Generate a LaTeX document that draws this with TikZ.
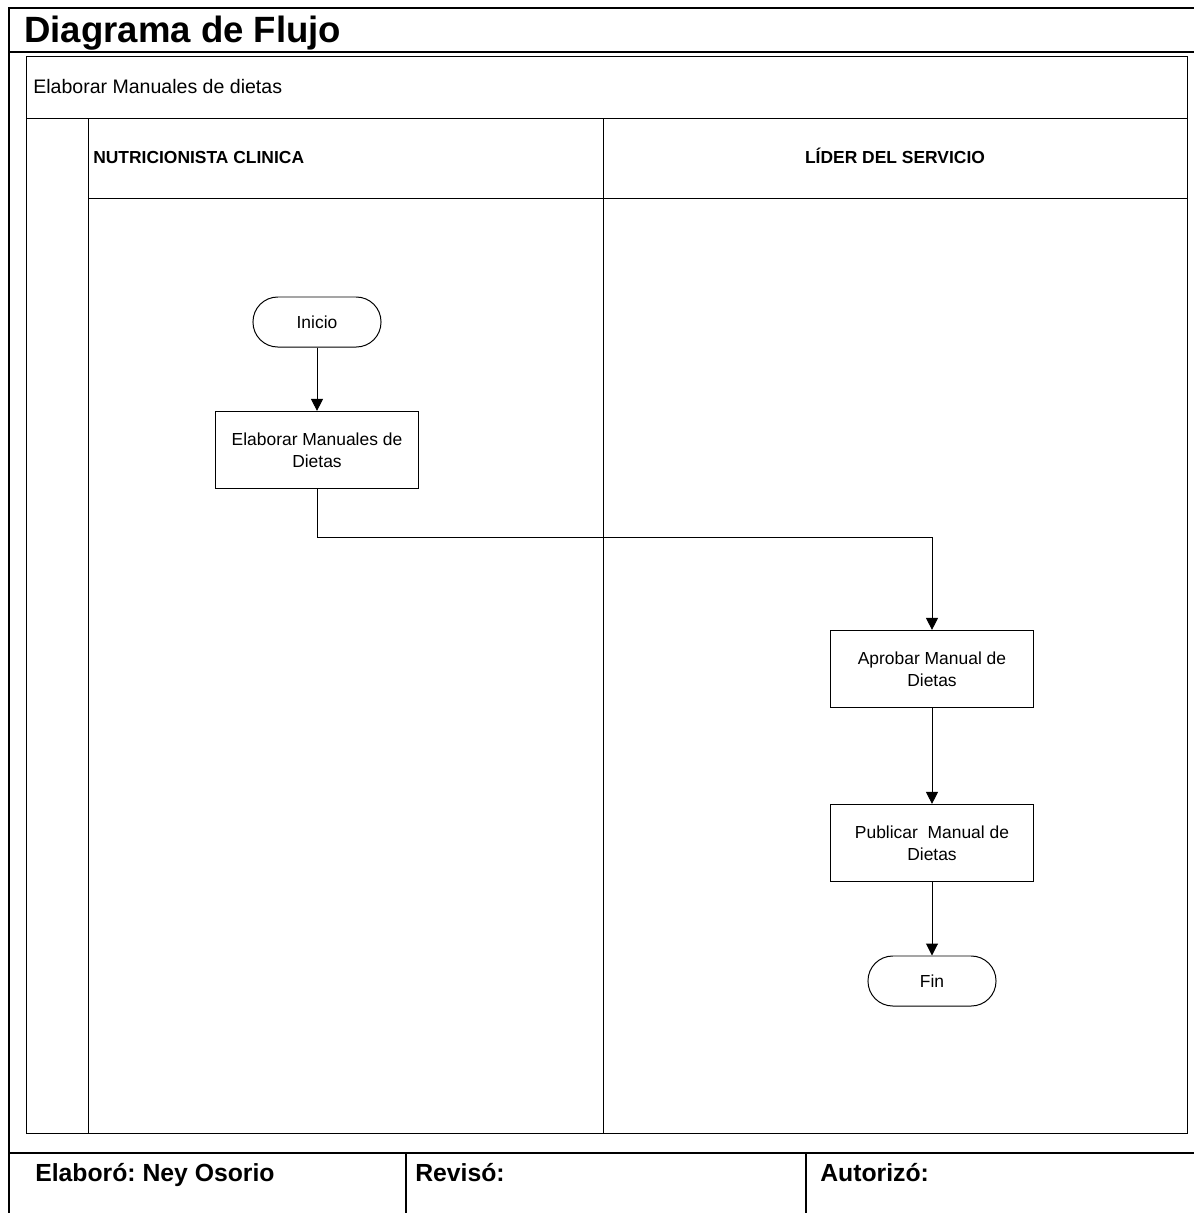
\documentclass[tikz,border=0pt]{standalone}
\usepackage{fontspec}
\setmainfont{Liberation Sans}
\usetikzlibrary{arrows.meta}
\frenchspacing

\begin{document}
\begin{tikzpicture}[x=0.025cm, y=-0.025cm,
  frame/.style={line width=1.5pt},
  lane/.style={line width=0.7pt},
  label/.style={anchor=base west, inner sep=0pt},
  proc/.style={draw, line width=0.7pt, minimum width=5.08cm, minimum height=1.93cm,
    align=center, font=\fontsize{12.4}{15.5}\selectfont},
  term/.style={draw, line width=0.7pt, rounded corners=0.62cm, minimum width=3.2cm,
    minimum height=1.25cm, font=\fontsize{12.4}{15.5}\selectfont},
  flow/.style={line width=0.7pt, -{Triangle[length=0.3cm, width=0.3cm]}}]
  \useasboundingbox (0,0) rectangle (1194,1213);

  % Outer frame
  \draw[frame] (1194,8) -- (9,8) -- (9,1213);
  \draw[frame] (9,52) -- (1194,52);
  \draw[frame] (9,1153) -- (1194,1153);
  \draw[frame] (406,1153) -- (406,1213);
  \draw[frame] (806,1153) -- (806,1213);
  \node[label, font=\fontsize{26}{30}\selectfont\bfseries] (title) at (24,42) {Diagrama de Flujo};

  % Swimlanes
  \draw[lane] (26,56) rectangle (1187,1133);
  \draw[lane] (26,118) -- (1187,118);
  \draw[lane] (88,198) -- (1187,198);
  \draw[lane] (88,118) -- (88,1133);
  \draw[lane] (603,118) -- (603,1133);
  \node[label, font=\fontsize{13.9}{16}\selectfont] (proc) at (33,93) {Elaborar Manuales de dietas};
  \node[label, font=\fontsize{12.4}{15}\selectfont\bfseries] (nutri) at (93,163) {NUTRICIONISTA CLINICA};
  \node[anchor=base, inner sep=0pt, font=\fontsize{12.4}{15}\selectfont\bfseries] (lider) at (895,163) {LÍDER DEL SERVICIO};

  % Steps
  \node[term] (inicio) at (317,322) {Inicio};
  \node[proc] (elab) at (317,450) {Elaborar Manuales de\\Dietas};
  \node[proc] (aprob) at (932,669) {Aprobar Manual de\\Dietas};
  \node[proc] (publ) at (932,843) {Publicar\ \ Manual de\\Dietas};
  \node[term] (fin) at (932,981) {Fin};

  % Arrows
  \draw[flow] (inicio.south) -- (elab.north);
  \draw[flow] (elab.south) -- ++(0,48) -| (aprob.north);
  \draw[flow] (aprob.south) -- (publ.north);
  \draw[flow] (publ.south) -- (fin.north);

  % Signatures
  \node[label, font=\fontsize{17.6}{20}\selectfont\bfseries] (elaboro) at (35,1181) {Elaboró: Ney Osorio};
  \node[label, font=\fontsize{17.6}{20}\selectfont\bfseries] (reviso) at (415,1181) {Revisó:};
  \node[label, font=\fontsize{17.6}{20}\selectfont\bfseries] (autorizo) at (820,1181) {Autorizó:};
\end{tikzpicture}
\end{document}
